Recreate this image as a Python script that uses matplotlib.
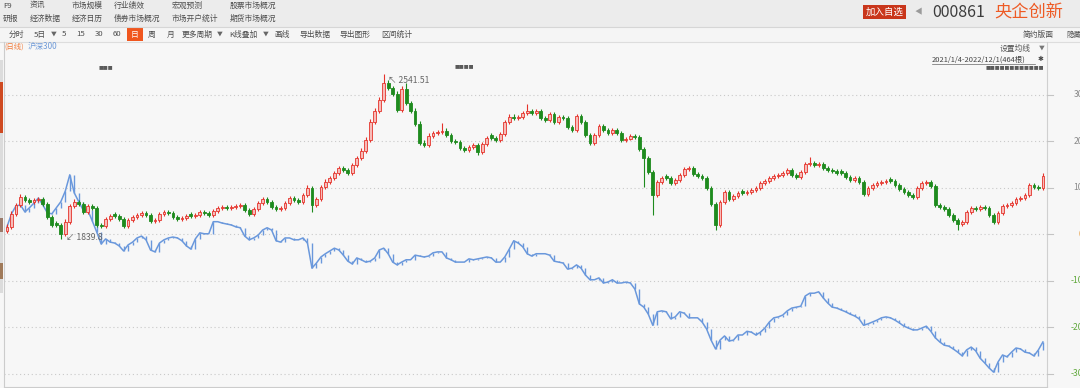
import numpy as np
import matplotlib
matplotlib.use("Agg")
import matplotlib.pyplot as plt
from matplotlib.patches import Rectangle
from matplotlib.lines import Line2D
from matplotlib.transforms import blended_transform_factory

plt.rcParams['font.family'] = ['Noto Sans CJK SC', 'DejaVu Sans']

# 央企创新 (000861) K-line, % vs start, 2-day bars
k_open = [0.8,1.6,4.4,6.3,8.0,7.4,7.0,7.4,7.6,6.5,
          3.7,2.4,2.0,0.1,2.7,6.1,7.0,6.5,4.8,6.1,
          5.7,2.0,1.8,3.3,4.3,3.9,3.3,1.8,3.1,3.7,
          4.2,4.6,4.2,2.9,3.1,4.4,4.8,4.6,3.7,3.3,
          3.5,4.3,3.9,4.2,4.8,4.6,4.2,5.0,5.7,5.9,
          5.7,5.9,6.1,6.3,5.2,4.4,5.5,6.7,7.6,7.0,
          5.9,5.5,5.7,6.7,7.8,7.4,7.0,8.5,10.0,6.3,
          7.6,10.2,11.3,12.1,13.2,14.3,13.9,13.2,14.9,16.4,
          18.0,20.3,24.2,26.6,28.9,32.6,31.5,30.2,26.8,31.3,
          28.3,26.6,23.8,19.7,19.2,21.2,21.8,22.0,22.3,21.4,
          20.1,19.9,18.6,18.2,18.8,19.2,17.7,19.5,21.3,20.8,
          20.3,21.6,24.2,25.3,25.1,25.3,26.1,26.6,26.1,26.6,
          25.1,24.6,25.9,24.2,25.3,25.1,23.1,22.5,25.5,24.2,
          21.4,19.7,21.4,23.3,22.5,21.8,22.5,21.8,20.3,20.6,
          21.2,21.0,18.4,16.4,13.4,8.5,11.3,12.5,12.1,11.1,
          11.7,12.8,14.1,14.3,13.0,12.6,12.1,10.0,6.5,2.0,
          7.0,9.1,7.6,8.3,9.3,8.9,9.1,9.5,10.0,11.1,
          11.5,12.1,12.6,12.8,13.2,13.9,12.8,12.3,13.4,15.1,
          15.4,14.9,15.1,14.3,13.9,13.6,13.6,13.2,12.3,11.7,
          12.1,11.3,8.7,10.0,10.6,11.1,11.3,11.9,11.5,10.6,
          9.8,9.1,8.5,8.0,10.0,11.1,11.3,10.4,6.3,5.9,
          5.5,4.2,3.1,2.2,2.7,4.8,5.7,5.5,5.9,5.7,
          4.2,2.7,4.6,6.1,6.3,6.7,7.6,7.8,8.5,10.6,
          10.2,10.0]
k_close = [1.6,4.4,6.3,8.0,7.4,7.0,7.4,7.6,6.5,3.7,
           2.0,2.0,0.1,2.7,6.1,7.0,6.5,4.8,6.1,5.7,
           2.0,1.8,3.3,3.9,3.9,3.3,1.8,3.1,3.7,4.2,
           4.6,4.2,2.9,3.1,4.4,4.8,4.6,3.7,3.3,3.5,
           3.9,3.9,4.2,4.8,4.6,4.2,5.0,5.7,5.9,5.7,
           5.9,6.1,6.3,5.2,4.4,5.5,6.7,7.6,7.0,5.9,
           5.5,5.7,6.7,7.8,7.4,7.0,8.5,10.0,6.3,7.6,
           10.2,11.3,12.1,13.2,14.3,13.9,13.2,14.9,16.4,18.0,
           20.3,24.2,26.6,28.9,32.6,31.5,30.2,26.8,31.3,28.3,
           26.6,23.8,19.7,19.2,21.2,21.8,22.0,22.3,21.4,20.1,
           19.9,18.6,18.2,18.8,19.2,17.7,19.5,20.8,20.8,20.3,
           21.6,24.2,25.3,25.1,25.3,26.1,26.6,26.1,26.6,25.1,
           24.6,25.9,24.2,25.3,25.1,23.1,22.5,25.5,24.2,21.4,
           19.7,21.4,23.3,22.5,21.8,22.5,21.8,20.3,20.6,21.2,
           21.0,18.4,16.4,13.4,8.5,11.3,12.1,12.1,11.1,11.7,
           12.8,14.1,14.3,13.0,12.6,12.1,10.0,6.5,2.0,7.0,
           9.1,7.6,8.3,8.9,8.9,9.1,9.5,10.0,11.1,11.5,
           12.1,12.6,12.8,13.2,13.9,12.8,12.3,13.4,15.1,15.4,
           14.9,15.1,14.3,13.9,13.6,13.2,13.2,12.3,11.7,12.1,
           11.3,8.7,10.0,10.6,11.1,11.3,11.5,11.5,10.6,9.8,
           9.1,8.5,8.0,10.0,11.1,11.3,10.4,6.3,5.9,5.5,
           4.2,3.1,2.2,2.7,4.8,5.7,5.5,5.9,5.7,4.2,
           2.7,4.6,6.1,6.3,6.7,7.6,7.8,8.5,10.6,10.2,
           10.0,12.6]
k_high = [2.1,4.9,6.8,8.6,8.4,7.9,7.9,8.1,8.0,6.9,
          4.2,2.9,2.5,3.2,6.6,7.5,7.4,7.0,6.6,6.5,
          6.1,2.5,3.8,4.3,4.7,4.3,3.7,3.6,4.1,4.6,
          5.0,5.0,4.6,3.5,4.8,5.2,5.2,5.0,4.1,3.9,
          4.3,4.7,4.6,5.2,5.2,5.0,5.4,6.1,6.3,6.3,
          6.3,6.5,6.7,6.7,5.6,5.9,7.1,8.0,8.0,7.4,
          6.3,6.1,7.1,8.2,8.2,7.8,8.9,10.5,10.4,8.0,
          10.6,11.8,12.6,13.7,14.8,14.7,14.3,15.4,16.9,18.5,
          20.9,24.8,27.2,29.5,34.5,33.2,32.0,30.8,31.9,32.5,
          28.8,27.1,24.3,20.2,21.7,22.3,22.5,24.0,22.8,21.8,
          20.6,20.3,19.0,19.2,19.6,19.6,19.9,21.2,21.7,21.2,
          22.0,24.7,25.8,25.8,25.7,26.6,28.0,27.0,27.0,27.0,
          25.5,26.3,26.3,25.7,25.7,25.5,23.5,26.0,25.9,24.6,
          21.8,21.8,23.8,23.7,22.9,22.9,22.9,22.2,21.0,21.6,
          21.6,21.4,18.8,16.8,13.8,11.7,12.5,12.9,12.5,12.1,
          13.2,14.5,14.7,14.7,13.4,13.0,12.5,10.4,6.9,7.4,
          9.5,9.5,8.7,9.3,9.7,9.5,9.9,10.4,11.5,11.9,
          12.5,13.0,13.2,13.6,14.3,14.3,13.2,13.8,15.5,16.6,
          15.8,15.5,15.5,14.7,14.3,14.0,14.0,13.6,12.7,12.5,
          12.5,11.7,10.4,11.0,11.5,11.7,11.9,12.3,11.9,11.0,
          10.2,9.5,8.9,10.4,11.5,11.7,11.7,10.8,6.7,6.3,
          5.9,4.6,3.5,3.1,5.2,6.1,6.1,6.3,6.3,6.1,
          4.6,5.0,6.5,6.7,7.1,8.0,8.2,8.9,11.0,11.0,
          10.6,13.1]
k_low = [0.3,1.2,4.0,5.9,7.0,6.6,6.6,7.0,6.1,3.2,
         1.5,1.5,-1.0,-0.3,2.3,5.7,6.1,4.4,4.4,5.3,
         1.6,1.4,1.4,2.9,3.5,2.9,1.4,1.4,2.7,3.3,
         3.8,3.8,2.5,2.5,2.7,4.0,4.2,3.3,2.9,2.9,
         3.1,3.5,3.5,3.8,4.2,3.8,3.8,4.6,5.3,5.3,
         5.3,5.5,5.7,4.8,4.0,4.0,5.1,6.3,6.6,5.5,
         5.1,5.1,5.3,6.3,7.0,6.6,6.6,8.1,4.8,5.9,
         7.2,9.8,10.9,11.7,12.8,13.5,12.8,12.8,14.5,16.0,
         17.5,19.8,23.7,26.1,28.4,31.0,29.7,26.3,26.3,27.8,
         26.1,23.3,19.2,18.7,18.8,20.8,21.4,21.6,21.0,19.7,
         19.5,18.2,17.8,17.8,18.4,17.0,17.3,19.1,20.4,19.9,
         19.9,21.2,23.8,24.7,24.7,24.9,25.7,25.7,25.7,24.7,
         24.2,24.2,23.8,23.8,24.7,22.7,22.1,22.1,23.8,21.0,
         19.2,19.3,21.0,22.1,21.4,21.4,21.4,19.9,19.9,20.2,
         20.6,18.0,10.2,13.0,4.2,8.1,10.9,11.7,10.7,10.7,
         11.3,12.4,13.7,12.6,12.2,11.7,9.6,6.1,0.9,1.6,
         6.6,7.2,7.2,7.9,8.5,8.5,8.7,9.1,9.6,10.7,
         11.1,11.7,12.2,12.4,12.8,12.4,11.9,11.9,13.0,14.7,
         14.5,14.5,13.9,13.5,13.2,12.8,12.8,11.9,11.3,11.3,
         10.9,8.3,8.3,9.6,10.2,10.7,10.9,11.1,10.2,9.4,
         8.7,8.1,7.6,7.6,9.6,10.7,10.0,5.9,5.5,5.1,
         3.8,2.7,1.0,1.8,2.3,4.4,5.1,5.1,5.3,3.8,
         2.3,2.3,4.2,5.7,5.9,6.3,7.2,7.4,8.1,9.8,
         9.6,9.6]

# 沪深300 overlay, % vs start
hs300 = [1.6,4.4,6.1,6.3,4.8,5.7,6.7,7.8,6.3,4.6,
         4.4,5.7,7.0,9.3,12.8,8.9,7.0,5.2,5.2,2.9,
         0.5,-2.1,-1.0,-1.7,-1.9,-2.5,-3.6,-2.3,-1.7,-0.8,
         -0.4,-1.2,-3.4,-3.8,-1.9,-1.2,-0.8,-0.6,-0.8,-1.4,
         -2.5,-3.2,-1.0,0.3,0.1,0.1,2.7,2.7,2.4,2.2,
         2.0,1.6,1.4,-0.4,-1.2,-0.8,-0.2,0.9,1.4,0.9,
         -1.4,-1.7,-0.8,-0.8,-1.2,-1.2,-0.8,-1.9,-7.3,-6.2,
         -4.9,-4.2,-3.6,-3.0,-3.4,-4.5,-5.8,-6.4,-5.1,-5.5,
         -6.0,-5.8,-5.1,-3.4,-3.0,-4.2,-6.0,-6.6,-6.0,-5.5,
         -5.5,-4.5,-4.7,-4.9,-4.7,-4.0,-3.8,-3.8,-5.1,-5.5,
         -6.0,-6.0,-6.0,-5.3,-5.5,-5.3,-5.1,-4.9,-5.1,-6.0,
         -6.0,-4.9,-3.2,-1.4,-1.9,-2.7,-4.2,-4.7,-4.2,-4.2,
         -4.2,-4.5,-5.8,-6.0,-6.2,-7.5,-7.3,-6.6,-7.3,-8.8,
         -9.8,-9.8,-9.4,-10.5,-10.3,-9.8,-10.5,-10.5,-10.3,-10.5,
         -11.8,-15.0,-15.7,-17.2,-19.6,-16.7,-16.5,-16.7,-18.2,-17.8,
         -16.7,-17.0,-18.0,-18.0,-18.0,-18.9,-20.4,-22.8,-24.7,-22.8,
         -21.9,-23.0,-22.8,-21.7,-21.7,-20.9,-21.1,-21.7,-21.1,-20.2,
         -18.9,-18.0,-17.8,-17.4,-16.5,-15.9,-15.7,-15.5,-13.3,-12.7,
         -12.7,-12.4,-13.7,-14.8,-15.7,-15.9,-16.3,-16.7,-17.2,-17.6,
         -18.2,-19.6,-19.3,-18.9,-18.5,-18.0,-17.8,-18.0,-18.5,-19.1,
         -19.8,-20.2,-20.6,-20.6,-20.2,-19.8,-20.9,-22.3,-23.2,-23.9,
         -24.1,-24.7,-25.4,-26.2,-24.9,-24.3,-25.1,-26.7,-27.7,-28.8,
         -29.7,-27.5,-26.0,-26.4,-25.4,-24.5,-24.7,-25.4,-25.6,-26.2,
         -24.9,-23.2]

pct_ticks = [30, 20, 10, 0, -10, -20, -30]
low_label = "1839.8"
high_label = "2541.51"
date_range = "2021/1/4-2022/12/1(464根)"

menu_top = ["F9", "资讯", "市场规模", "行业绩效", "宏观预测", "股票市场概况"]
menu_bottom = ["研报", "经济数据", "经济日历", "债券市场概况", "市场开户统计", "期货市场概况"]
menu_x = [3, 30, 72, 114, 172, 230]
tool_items = ["分时", "5日", "▼", "5", "15", "30", "60", "日", "周", "月",
              "更多周期", "▼", "K线叠加", "▼", "画线", "导出数据", "导出图形", "区间统计"]
tool_x = [9, 34, 51, 62, 76, 95, 113, 131, 148, 167, 182, 217, 229, 263, 274, 299, 339, 381]

W, H = 1080, 388
fig = plt.figure(figsize=(W / 100, H / 100), dpi=100, facecolor="#f7f7f7")


def fx(px):
    return px / W


def fy(py):
    return 1 - py / H


def box(x0, y0, x1, y1, color):
    fig.patches.append(Rectangle((fx(x0), fy(y1)), fx(x1) - fx(x0), (y1 - y0) / H,
                                 transform=fig.transFigure, facecolor=color,
                                 edgecolor="none", zorder=0))


def hline(x0, x1, y, color, lw=0.8):
    fig.add_artist(Line2D([fx(x0), fx(x1)], [fy(y), fy(y)], color=color, lw=lw))


def vline(x, y0, y1, color, lw=0.8):
    fig.add_artist(Line2D([fx(x), fx(x)], [fy(y0), fy(y1)], color=color, lw=lw))


def label(x, y, s, size=5.6, color="#4d4d4d", ha="left", **kw):
    fig.text(fx(x), fy(y), s, fontsize=size, color=color, ha=ha, va="center", **kw)


# header + toolbar
box(0, 0, W, 27, "#ececec")
box(0, 27, W, 41.5, "#f5f5f5")
hline(0, W, 27, "#d6d6d6")
hline(0, W, 41.5, "#dddddd")
for s, x in zip(menu_top, menu_x):
    label(x, 5.5, s)
for s, x in zip(menu_bottom, menu_x):
    label(x, 18.5, s)

box(127, 28, 143, 41, "#f0561e")
for s, x in zip(tool_items, tool_x):
    if s == "日":
        label(135, 34.5, s, color="white", ha="center")
    elif s == "▼":
        label(x, 34.5, s, size=4.2, color="#666666")
    else:
        label(x, 34.5, s)
label(1023, 34.5, "简约版面")
label(1066, 34.5, "隐藏", size=5.4)

box(863, 5, 906, 19, "#c9361b")
label(884.5, 12, "加入自选", size=6.8, color="white", ha="center")
label(915, 12, "◀", size=5.5, color="#9a9a9a")
label(932, 12.5, "000861", size=11.5, color="#3c3c3c")
label(994, 12.5, "央企创新", size=12.4, color="#ee5a24")

# legend / info line
label(4, 47, "(日线)", size=5.3, color="#f07a3a")
label(28, 47, "沪深300", size=5.8, color="#6f9ad8")
label(1000, 48.5, "设置均线", size=5.6, color="#555555")
label(1039, 48.5, "▼", size=4.2, color="#777777")
label(932, 59.5, date_range, size=5.4, color="#444444")
hline(932, 1035, 63.8, "#666666", 0.5)
label(1038, 59, "✱", size=5, color="#444444")
label(986, 68, "■" * 12, size=3.5, color="#5a5a5a")
label(99, 68, "■" * 3, size=3.5, color="#5a5a5a")
label(455, 67, "■" * 4, size=3.5, color="#5a5a5a")

# left strip, frame lines
box(0, 60, 3, 293, "#dcdcdc")
box(0, 82, 3, 133, "#cf4a21")
box(0, 218, 3, 232, "#9a7a6a")
box(0, 263, 3, 279, "#a07a5a")
vline(3.5, 42, H, "#cccccc")
vline(1046.5, 42, H, "#d0d0d0")
hline(3.5, 1046.5, 386.7, "#cccccc")

# chart
ax = fig.add_axes([fx(4), fy(387), fx(1046.5) - fx(4), (387 - 42) / H])
ax.set_xlim(-0.67, 231.8)
ax.set_ylim(-32.9, 41.4)
ax.axis("off")

for t in pct_ticks:
    ax.axhline(t, color="#c9c9c9", lw=0.8, ls=(0, (1, 2.5)), zorder=0)

# right-hand % scale (labels run past the window edge as in the screenshot)
trans = blended_transform_factory(fig.transFigure, ax.transData)
for t in pct_ticks:
    fig.add_artist(Line2D([fx(1047), fx(1053)], [t, t], transform=trans,
                          color="#c4c4c4", lw=0.8))
    if t > 0:
        c = "#8a8a8a"
    elif t == 0:
        c = "#e89b3c"
    else:
        c = "#5fa83a"
    fig.text(fx(1103), t, "%.2f%%" % t, transform=trans, ha="right", va="center",
             fontsize=6.2, color=c)

o = np.array(k_open)
c = np.array(k_close)
hi = np.array(k_high)
lo = np.array(k_low)
hs = np.array(hs300)
x = np.arange(len(c))
up = c >= o
red, green = "#e5332b", "#1e8b1e"
wick_colors = np.where(up, red, green)

# 沪深300 drawn as a jagged line with bar ticks between consecutive closes
ax.plot(x, hs, color="#6a98dc", lw=1.1, zorder=2)
ax.vlines(x[1:], np.minimum(hs[:-1], hs[1:]), np.maximum(hs[:-1], hs[1:]),
          colors="#6a98dc", lw=1.0, zorder=2)

ax.vlines(x, lo, hi, colors=wick_colors, lw=0.8, zorder=3)
bottom = np.minimum(o, c)
height = np.maximum(np.abs(c - o), 0.2)
ax.bar(x[up], height[up], bottom=bottom[up], width=0.62, facecolor="#f7bcb9",
       edgecolor=red, lw=0.6, zorder=4)
ax.bar(x[~up], height[~up], bottom=bottom[~up], width=0.62, facecolor=green,
       edgecolor=green, lw=0.6, zorder=4)

imin = int(np.argmin(lo))
imax = int(np.argmax(hi))
ax.annotate("↙ " + low_label, xy=(imin, lo[imin]), xytext=(5, 1),
            textcoords="offset pixels", fontsize=6.2, color="#666666",
            ha="left", va="center", zorder=6)
ax.annotate("↖ " + high_label, xy=(imax, hi[imax]), xytext=(4, -6),
            textcoords="offset pixels", fontsize=6.2, color="#666666",
            ha="left", va="center", zorder=6)

fig.savefig("out.png", dpi=100, facecolor=fig.get_facecolor())
